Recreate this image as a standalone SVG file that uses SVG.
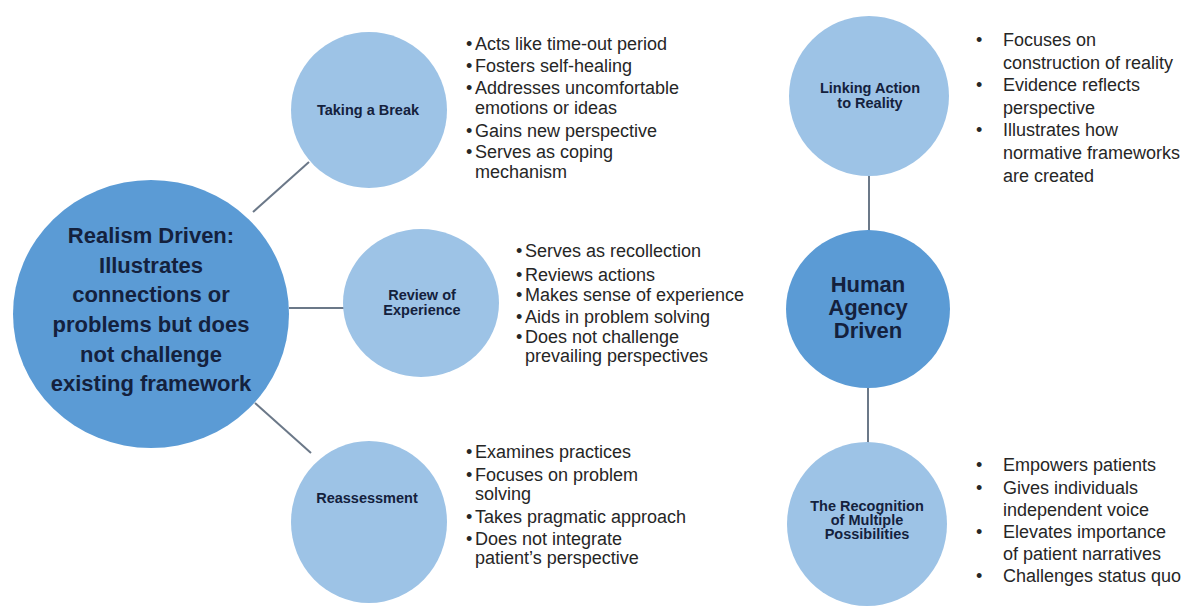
<svg xmlns="http://www.w3.org/2000/svg" width="1192" height="606" viewBox="0 0 1192 606">
<style>
.big{fill:#5b9bd5}
.small{fill:#9dc3e6}
.conn{stroke:#6b7888;stroke-width:2;fill:none}
.bt{font-family:"Liberation Sans",Arial,sans-serif;font-weight:bold;fill:#14213d;text-anchor:middle}
.bl{font-family:"Liberation Sans",Arial,sans-serif;font-size:22px}
.sl{font-family:"Liberation Sans",Arial,sans-serif;font-size:14.5px}
.li{font-family:"Liberation Sans",Arial,sans-serif;font-size:18px;fill:#262626}
</style>
<rect width="1192" height="606" fill="#ffffff"/>
<g id="connectors">
<line class="conn" x1="253" y1="212" x2="309" y2="162"/>
<line class="conn" x1="289" y1="308" x2="344" y2="308"/>
<line class="conn" x1="255" y1="403" x2="311" y2="453"/>
<line class="conn" x1="869" y1="175" x2="869" y2="232"/>
<line class="conn" x1="868" y1="387" x2="868" y2="443"/>
</g>
<g id="realism">
<ellipse class="big" cx="151" cy="314" rx="138" ry="134"/>
<text class="bt bl"><tspan x="151" y="243">Realism Driven:</tspan><tspan x="151" y="273">Illustrates</tspan><tspan x="151" y="302">connections or</tspan><tspan x="151" y="332">problems but does</tspan><tspan x="151" y="362">not challenge</tspan><tspan x="151" y="391">existing framework</tspan></text>
</g>
<g id="taking-break">
<circle class="small" cx="369" cy="110" r="78"/>
<text class="bt sl" x="368" y="115">Taking a Break</text>
<g class="li"><text x="466" y="50">•</text><text x="475" y="50">Acts like time-out period</text>
<text x="466" y="72">•</text><text x="475" y="72">Fosters self-healing</text>
<text x="466" y="94">•</text><text x="475" y="94">Addresses uncomfortable</text>
<text x="475" y="114">emotions or ideas</text>
<text x="466" y="137">•</text><text x="475" y="137">Gains new perspective</text>
<text x="466" y="158">•</text><text x="475" y="158">Serves as coping</text>
<text x="475" y="178">mechanism</text></g>
</g>
<g id="review">
<ellipse class="small" cx="421" cy="303" rx="78" ry="74"/>
<text class="bt sl"><tspan x="422" y="300">Review of</tspan><tspan x="422" y="315">Experience</tspan></text>
<g class="li"><text x="516" y="257">•</text><text x="525" y="257">Serves as recollection</text>
<text x="516" y="281">•</text><text x="525" y="281">Reviews actions</text>
<text x="516" y="301">•</text><text x="525" y="301">Makes sense of experience</text>
<text x="516" y="323">•</text><text x="525" y="323">Aids in problem solving</text>
<text x="516" y="343">•</text><text x="525" y="343">Does not challenge</text>
<text x="525" y="362">prevailing perspectives</text></g>
</g>
<g id="reassessment">
<ellipse class="small" cx="369" cy="522" rx="78" ry="81"/>
<text class="bt sl" x="367" y="503">Reassessment</text>
<g class="li"><text x="466" y="458">•</text><text x="475" y="458">Examines practices</text>
<text x="466" y="481">•</text><text x="475" y="481">Focuses on problem</text>
<text x="475" y="500">solving</text>
<text x="466" y="523">•</text><text x="475" y="523">Takes pragmatic approach</text>
<text x="466" y="545">•</text><text x="475" y="545">Does not integrate</text>
<text x="475" y="564">patient’s perspective</text></g>
</g>
<g id="linking">
<circle class="small" cx="869" cy="96" r="80"/>
<text class="bt sl"><tspan x="870" y="93">Linking Action</tspan><tspan x="870" y="108">to Reality</tspan></text>
<g class="li"><text x="976" y="46">•</text><text x="1003" y="46">Focuses on</text>
<text x="1003" y="69">construction of reality</text>
<text x="976" y="91">•</text><text x="1003" y="91">Evidence reflects</text>
<text x="1003" y="114">perspective</text>
<text x="976" y="136">•</text><text x="1003" y="136">Illustrates how</text>
<text x="1003" y="159">normative frameworks</text>
<text x="1003" y="182">are created</text></g>
</g>
<g id="human-agency">
<ellipse class="big" cx="868" cy="309" rx="82" ry="79"/>
<text class="bt" style="font-size:22px"><tspan x="868" y="292">Human</tspan><tspan x="868" y="315">Agency</tspan><tspan x="868" y="338">Driven</tspan></text>
</g>
<g id="recognition">
<ellipse class="small" cx="867" cy="524" rx="80" ry="82"/>
<text class="bt sl"><tspan x="867" y="511">The Recognition</tspan><tspan x="867" y="525">of Multiple</tspan><tspan x="867" y="539">Possibilities</tspan></text>
<g class="li"><text x="976" y="471">•</text><text x="1003" y="471">Empowers patients</text>
<text x="976" y="494">•</text><text x="1003" y="494">Gives individuals</text>
<text x="1003" y="516">independent voice</text>
<text x="976" y="538">•</text><text x="1003" y="538">Elevates importance</text>
<text x="1003" y="560">of patient narratives</text>
<text x="976" y="582">•</text><text x="1003" y="582">Challenges status quo</text></g>
</g>
</svg>
